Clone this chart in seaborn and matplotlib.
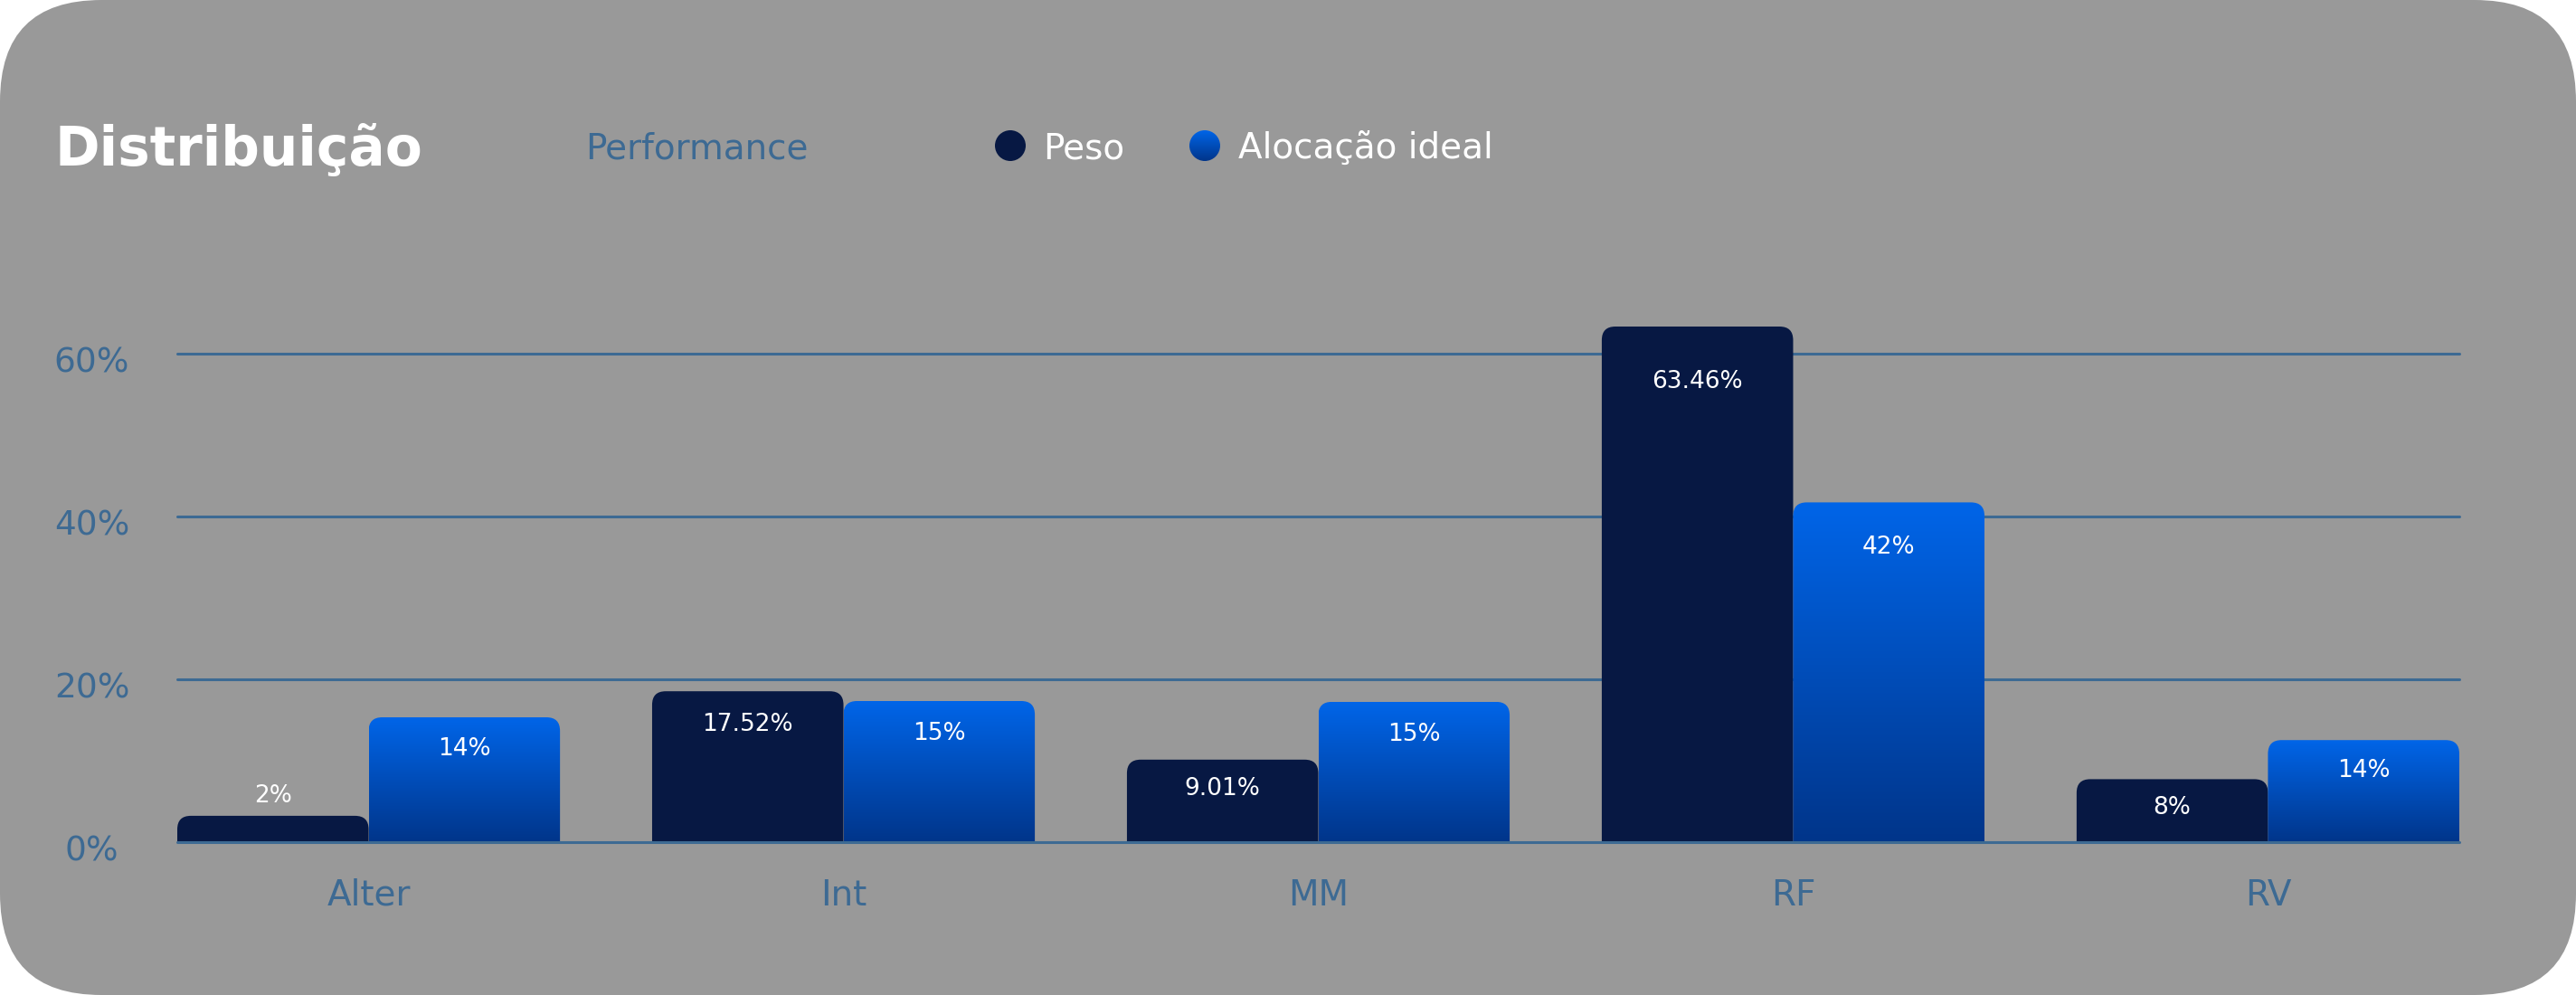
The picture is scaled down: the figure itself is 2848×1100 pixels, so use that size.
import numpy as np
import pandas as pd
import seaborn as sns
import matplotlib.pyplot as plt
import matplotlib.patches as mpatches
import matplotlib.transforms as mtransforms
from matplotlib.colors import LinearSegmentedColormap

# dados
categorias = ["Alter", "Int", "MM", "RF", "RV"]
peso = [3.2, 18.5, 10.1, 63.3, 7.7]
alocacao_ideal = [15.3, 17.3, 17.2, 41.7, 12.5]
rotulos_peso = ["2%", "17.52%", "9.01%", "63.46%", "8%"]
rotulos_ideal = ["14%", "15%", "15%", "42%", "14%"]
yticks = [0, 20, 40, 60]
ytick_labels = ["0%", "20%", "40%", "60%"]

df = pd.DataFrame({"categoria": categorias, "Peso": peso, "Alocação ideal": alocacao_ideal})
df = df.melt(id_vars="categoria", var_name="serie", value_name="valor")

sns.set_style("white")
plt.rcParams['font.family'] = ['DejaVu Sans']

AZUL_ESCURO = "#071843"
AZUL_TOPO = "#0065E8"
AZUL_BASE = "#00358A"
COR_EIXO = "#3D6A93"
CINZA = "#999999"

W, H = 2848, 1100
fig = plt.figure(figsize=(W / 100, H / 100), dpi=100, facecolor="white")

# fundo cinza com cantos arredondados
fundo = mpatches.FancyBboxPatch((0, 0), W / 100, H / 100,
                                boxstyle="round,pad=0,rounding_size=1.12",
                                transform=fig.dpi_scale_trans,
                                facecolor=CINZA, edgecolor="none", zorder=0)
fig.add_artist(fundo)

ax = fig.add_axes([196 / W, (H - 930.7) / H, (2719 - 196) / W, 630 / H])
ax.set_facecolor("none")

sns.barplot(data=df, x="categoria", y="valor", hue="serie",
            palette=[AZUL_ESCURO, AZUL_TOPO], width=0.806, saturation=1,
            legend=False, ax=ax)

xlim = (-0.403, 4.403)
ylim = (0, 70)
ax.set_xlim(*xlim)
ax.set_ylim(*ylim)

# escala em pixels para cantos arredondados
p0 = ax.transData.transform((0, 0))
p1 = ax.transData.transform((1, 1))
px_x = p1[0] - p0[0]
px_y = p1[1] - p0[1]
raio_px = 15
rx = raio_px / px_x
ry = raio_px / px_y
aspecto = px_x / px_y

cmap = LinearSegmentedColormap.from_list("azul", [AZUL_BASE, AZUL_TOPO])
gradiente = np.linspace(0, 1, 256).reshape(-1, 1)

for i, (container, rotulos) in enumerate(zip(ax.containers, [rotulos_peso, rotulos_ideal])):
    for rect, txt in zip(container, rotulos):
        x, w, h = rect.get_x(), rect.get_width(), rect.get_height()
        rect.remove()
        caixa = mpatches.FancyBboxPatch((x, -ry), w, h + ry,
                                        boxstyle=f"round,pad=0,rounding_size={rx}",
                                        mutation_aspect=aspecto,
                                        facecolor=AZUL_ESCURO if i == 0 else "none",
                                        edgecolor="none", zorder=2)
        ax.add_patch(caixa)
        if i == 1:
            im = ax.imshow(gradiente, cmap=cmap, extent=[x, x + w, 0, h],
                           origin="lower", aspect="auto", zorder=2,
                           interpolation="bicubic")
            im.set_clip_path(caixa)
        # rótulo do valor
        h_px = h * px_y
        if h_px < 55:
            ypos = h + 22 / px_y
        else:
            ypos = h - (27 + 0.06 * h_px) / px_y
        ax.text(x + w / 2, ypos, txt, ha="center", va="center",
                color="white", fontsize=19, zorder=4)

ax.set_xlim(*xlim)
ax.set_ylim(*ylim)

# linhas de grade
for v in yticks:
    ax.axhline(v, color=COR_EIXO, linewidth=2.2, zorder=1 if v > 0 else 3, clip_on=False)

sns.despine(ax=ax, left=True, bottom=True)
ax.set_xlabel("")
ax.set_ylabel("")
ax.set_yticks(yticks, ytick_labels)
ax.tick_params(axis="y", length=0, pad=68, labelsize=27, labelcolor=COR_EIXO)
ax.tick_params(axis="x", length=0, pad=29, labelsize=28, labelcolor=COR_EIXO)
desloca = mtransforms.ScaledTranslation(0, -7 / 100, fig.dpi_scale_trans)
for lab in ax.get_yticklabels():
    lab.set_horizontalalignment("center")
    lab.set_transform(lab.get_transform() + desloca)

# título e legenda
fig.text(60 / W, (H - 183) / H, "Distribuição", fontsize=43, fontweight="bold",
         color="white", va="baseline")
fig.text(647 / W, (H - 176) / H, "Performance", fontsize=28, color=COR_EIXO,
         va="baseline")

fig.add_artist(mpatches.Circle((1117 / 100, (H - 161) / 100), 0.17,
                               transform=fig.dpi_scale_trans,
                               facecolor=AZUL_ESCURO, edgecolor="none"))
fig.text(1153 / W, (H - 176) / H, "Peso", fontsize=28, color="white", va="baseline")

ax_leg = fig.add_axes([(1332 - 17) / W, (H - 161 - 17) / H, 34 / W, 34 / H])
ax_leg.axis("off")
im_leg = ax_leg.imshow(gradiente, cmap=cmap, extent=[0, 1, 0, 1], origin="lower",
                       aspect="auto")
circulo = mpatches.Circle((0.5, 0.5), 0.5, transform=ax_leg.transAxes,
                          facecolor="none", edgecolor="none")
ax_leg.add_patch(circulo)
im_leg.set_clip_path(circulo)
fig.text(1369 / W, (H - 176) / H, "Alocação ideal", fontsize=28, color="white",
         va="baseline")

fig.savefig("out.png", dpi=100, facecolor="white")
